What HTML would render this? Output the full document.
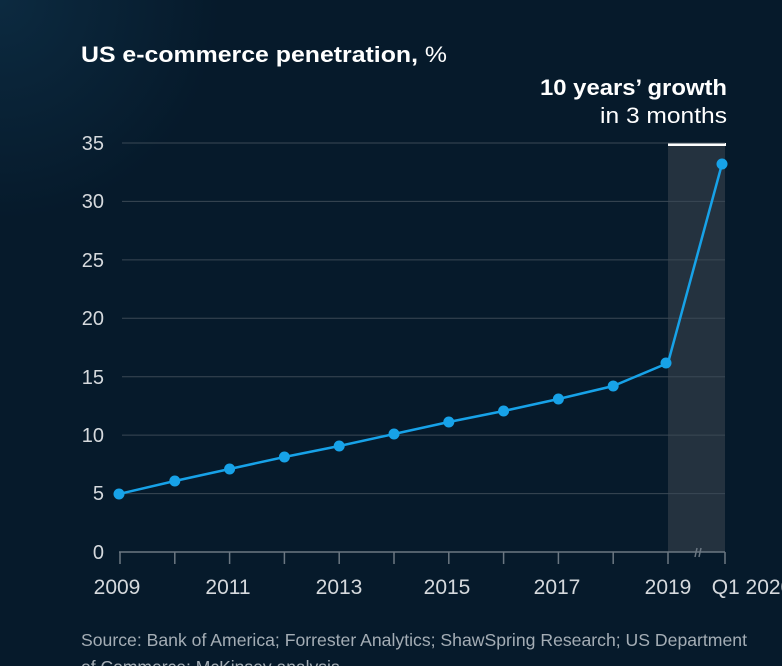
<!DOCTYPE html>
<html><head><style>
body{margin:0;width:782px;height:666px;overflow:hidden;background:radial-gradient(circle at 0 0,#0c2a40 0,#061a2b 220px,#061a2b 100%);font-family:"Liberation Sans",sans-serif;}
</style></head><body>
<svg width="782" height="666" xmlns="http://www.w3.org/2000/svg" style="position:absolute;left:0;top:0">
<text x="81" y="62" fill="#fff" font-size="22" font-weight="bold" textLength="366" lengthAdjust="spacingAndGlyphs">US e-commerce penetration, <tspan font-weight="normal">%</tspan></text>
<text x="540" y="95" fill="#fff" font-size="22" font-weight="bold" textLength="187" lengthAdjust="spacingAndGlyphs">10 years’ growth</text>
<text x="600" y="123" fill="#fff" font-size="22" textLength="127" lengthAdjust="spacingAndGlyphs">in 3 months</text>
<rect x="668" y="143" width="58" height="3" fill="#fff"/>
<rect x="668" y="146" width="57" height="406" fill="#24323f"/>
<g stroke="#3a4855" stroke-width="1">
<line x1="122" y1="143" x2="725" y2="143"/><line x1="122" y1="201.4" x2="725" y2="201.4"/>
<line x1="122" y1="259.9" x2="725" y2="259.9"/><line x1="122" y1="318.3" x2="725" y2="318.3"/>
<line x1="122" y1="376.7" x2="725" y2="376.7"/><line x1="122" y1="435.1" x2="725" y2="435.1"/>
<line x1="122" y1="493.6" x2="725" y2="493.6"/>
</g>
<g stroke="#6b7782" stroke-width="1.5">
<line x1="119" y1="552" x2="725" y2="552"/>
<line x1="120" y1="552" x2="120" y2="564"/><line x1="174.8" y1="552" x2="174.8" y2="564"/>
<line x1="229.6" y1="552" x2="229.6" y2="564"/><line x1="284.4" y1="552" x2="284.4" y2="564"/>
<line x1="339.2" y1="552" x2="339.2" y2="564"/><line x1="394" y1="552" x2="394" y2="564"/>
<line x1="448.8" y1="552" x2="448.8" y2="564"/><line x1="503.6" y1="552" x2="503.6" y2="564"/>
<line x1="558.4" y1="552" x2="558.4" y2="564"/><line x1="613.2" y1="552" x2="613.2" y2="564"/>
<line x1="668" y1="552" x2="668" y2="564"/><line x1="725" y1="552" x2="725" y2="564"/>
<line x1="695" y1="557" x2="697" y2="548"/><line x1="699" y1="557" x2="701" y2="548"/>
</g>
<g fill="#d5d9dd" font-size="20" text-anchor="end">
<text x="104" y="150">35</text><text x="104" y="208">30</text><text x="104" y="267">25</text>
<text x="104" y="325">20</text><text x="104" y="384">15</text><text x="104" y="442">10</text>
<text x="104" y="500">5</text><text x="104" y="559">0</text>
</g>
<g fill="#d5d9dd" font-size="21" text-anchor="middle">
<text x="117" y="594">2009</text><text x="228" y="594">2011</text><text x="339" y="594">2013</text>
<text x="447" y="594">2015</text><text x="557" y="594">2017</text><text x="668" y="594">2019</text>
<text x="752" y="594">Q1 2020</text>
</g>
<polyline fill="none" stroke="#17a2e8" stroke-width="2.5" points="119,494 174.8,481 229.6,469 284.4,457 339.2,446 394,434 448.8,422 503.6,411 558.4,399 613.2,386 668,363 722,164"/>
<g fill="#17a2e8">
<circle cx="119" cy="494" r="5.5"/><circle cx="174.8" cy="481" r="5.5"/><circle cx="229.6" cy="469" r="5.5"/>
<circle cx="284.4" cy="457" r="5.5"/><circle cx="339.2" cy="446" r="5.5"/><circle cx="394" cy="434" r="5.5"/>
<circle cx="448.8" cy="422" r="5.5"/><circle cx="503.6" cy="411" r="5.5"/><circle cx="558.4" cy="399" r="5.5"/>
<circle cx="613.2" cy="386" r="5.5"/><circle cx="666" cy="363" r="5.5"/><circle cx="722" cy="164" r="5.5"/>
</g>
<text x="81" y="646" fill="#a4adb5" font-size="17.5" textLength="666" lengthAdjust="spacingAndGlyphs">Source: Bank of America; Forrester Analytics; ShawSpring Research; US Department</text>
<text x="81" y="673" fill="#a4adb5" font-size="17.5">of Commerce; McKinsey analysis</text>
</svg>
</body></html>
